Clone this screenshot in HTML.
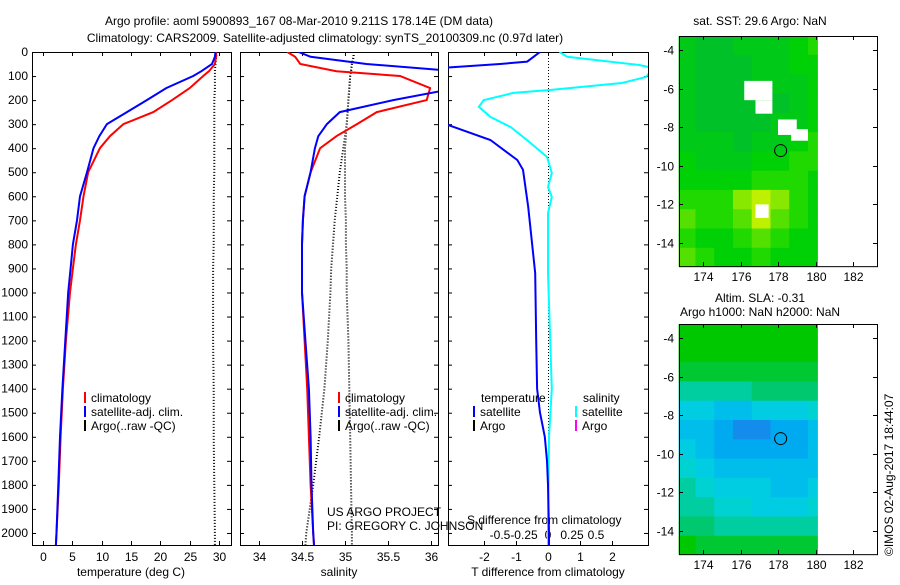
<!DOCTYPE html>
<html><head><meta charset="utf-8"><style>
body{margin:0;background:#fff}
svg text{font-family:"Liberation Sans",sans-serif;font-size:12px;fill:#000}
</style></head><body>
<svg id="c" width="900" height="580" viewBox="0 0 900 580" xmlns="http://www.w3.org/2000/svg">
<text x="299" y="25" text-anchor="middle" font-size="13">Argo profile: aoml 5900893_167 08-Mar-2010 9.211S 178.14E (DM data)</text>
<text x="325" y="42" text-anchor="middle" font-size="13">Climatology: CARS2009. Satellite-adjusted climatology: synTS_20100309.nc (0.97d later)</text>
<text x="760" y="25" text-anchor="middle">sat. SST: 29.6 Argo: NaN</text>
<text x="760" y="302" text-anchor="middle">Altim. SLA: -0.31</text>
<text x="760" y="316" text-anchor="middle">Argo h1000: NaN h2000: NaN</text>
<text transform="translate(893,556) rotate(-90)">©IMOS 02-Aug-2017 18:44:07</text>
<text x="327" y="516">US ARGO PROJECT</text>
<text x="327" y="530">PI: GREGORY C. JOHNSON</text>
<text x="467" y="524">S difference from climatology</text>
<text x="131" y="576" text-anchor="middle">temperature (deg C)</text>
<text x="339" y="576" text-anchor="middle">salinity</text>
<text x="548" y="576" text-anchor="middle">T difference from climatology</text>
</svg>
<script>
const depths=[0,20,50,80,100,150,200,250,300,350,400,500,600,700,800,900,1000,1200,1400,1600,1800,2000,2050];
const tClim=[29.5,29.5,29.3,28.3,27.3,25,22,18.8,13.7,11.4,9.7,7.7,6.9,6.3,5.6,5.1,4.6,3.9,3.4,3.0,2.7,2.3,2.2];
const tSat=[29.4,29.3,28.8,27,25.6,21,17.7,14.3,10.9,9.6,8.6,7.5,6.3,5.8,5.1,4.7,4.3,3.8,3.3,2.9,2.6,2.3,2.2];
const tArgo=[29.6,29.5,29.4,29.3,29.3,29.3,29.2,29.2,29.2,29.2,29.2,29.2,29.1,29.1,29.1,29.0,29.0,29.0,29.1,29.1,29.2,29.3,29.3];
const sClim=[34.33,34.42,34.48,34.9,35.64,35.99,35.95,35.37,35.14,34.9,34.71,34.6,34.53,34.51,34.5,34.5,34.5,34.53,34.56,34.58,34.6,34.63,34.64];
const sSat=[34.46,34.6,35.25,36.3,36.5,36.3,35.56,34.94,34.79,34.69,34.65,34.6,34.53,34.51,34.5,34.5,34.5,34.54,34.58,34.6,34.61,34.63,34.64];
const sArgoA=[35.1,35.1,35.08,35.07,35.06,35.05,35.04,35.03,35.02,35.01,35.0,35.0,35.0,35.01,35.01,35.02,35.02,35.04,35.05,35.06,35.07,35.08,35.08];
const sArgoB=[35.1,35.1,35.08,35.07,35.06,35.05,35.04,35.03,35.02,35.0,34.98,34.94,34.91,34.88,34.86,34.84,34.83,34.8,34.76,34.7,34.63,34.55,34.54];
const dDepths=[0,40,50,65,100,200,300,366,449,490,644,920,1200,1400,1500,1600,1700,1800,2000,2050];
const dTSat=[-0.25,-0.65,-1.5,-3.2,-4,-4,-3.2,-1.8,-0.96,-0.78,-0.62,-0.4,-0.37,-0.34,-0.25,-0.1,-0.03,0,0.03,0.03];
const sdDepths=[0,20,54,67,104,129,158,170,200,228,270,312,366,436,503,561,603,670,920,1400,1600,2000,2050];
const dSSat=[0.12,0.2,0.95,1.1,1.02,0.77,0.02,-0.36,-0.67,-0.72,-0.6,-0.39,-0.22,-0.01,0.04,0,0.04,0,0,0.04,0.01,0,0];
const tTicks=[0,5,10,15,20,25,30];
const sTicks=[34,34.5,35,35.5,36];
const sTickLabels=["34","34.5","35","35.5","36"];
const dtTicks=[-2,-1,0,1,2];
const dsTicks=[-0.5,-0.25,0,0.25,0.5];
const depthTicks=[0,100,200,300,400,500,600,700,800,900,1000,1100,1200,1300,1400,1500,1600,1700,1800,1900,2000];
const lonTicks=[174,176,178,180,182];
const latTicks=[-4,-6,-8,-10,-12,-14];
const sstGrid=["43344456","43334455","43334445","43333345","43333445","44434456","54445566","55556665","66689865","76679765","65567655","76556555"];
const slaGrid=["99999999","99999999","88888888","66667777","44334445","33211223","43222223","54333333","65444334","66554445","77666666","98888888"];
const nanRects=[[176.2,-5.6,177.7,-6.6],[176.8,-6.6,177.7,-7.3],[178.0,-7.6,179.0,-8.4],[178.7,-8.1,179.6,-8.7],[176.8,-12.0,177.5,-12.7]];
const profLon=178.14, profLat=-9.211;

const NS='http://www.w3.org/2000/svg';
const svg=document.getElementById('c');
function el(tag,attrs,parent){const e=document.createElementNS(NS,tag);for(const k in attrs)e.setAttribute(k,attrs[k]);(parent||svg).appendChild(e);return e;}
const yTop=52,yBot=545,dMax=2050;
function yD(d){return yTop+(d/dMax)*(yBot-yTop);}
function lin(d0,d1,p0,p1){return v=>p0+(v-d0)/(d1-d0)*(p1-p0);}
const panels=[
 {x0:32,x1:231,sx:lin(0,30,43,219),name:'temperature-panel'},
 {x0:240,x1:438,sx:lin(34,36,259,431),name:'salinity-panel'},
 {x0:448,x1:648,sx:lin(0,2,548,612),name:'difference-panel'}];
const sdx=lin(0,0.5,548,596);
function clip(p,id){const cp=el('clipPath',{id:id});el('rect',{x:p.x0,y:yTop,width:p.x1-p.x0,height:yBot-yTop},cp);return 'url(#'+id+')';}
function line(xs,ds,fx,color,w,dash,clipUrl,name){
  let pts=xs.map((v,i)=>fx(v).toFixed(1)+','+yD(ds[i]).toFixed(1)).join(' ');
  const a={points:pts,fill:'none',stroke:color,'stroke-width':w,'clip-path':clipUrl};
  if(dash)a['stroke-dasharray']=dash;
  const e=el('polyline',a);
  
  
}
panels.forEach((p,i)=>{
  const r=el('rect',{x:p.x0+0.5,y:yTop+0.5,width:p.x1-p.x0,height:yBot-yTop,fill:'none',stroke:'#000'});
  
  
  depthTicks.forEach(d=>{const y=yD(d)+0.5;el('line',{x1:p.x0,x2:p.x0+4,y1:y,y2:y,stroke:'#000'});el('line',{x1:p.x1-4,x2:p.x1,y1:y,y2:y,stroke:'#000'});});
});
depthTicks.forEach(d=>{const t=el('text',{x:28,y:yD(d)+4,'text-anchor':'end'});t.textContent=d;
  
  });
function xticks(p,vals,labels,fx){vals.forEach((v,i)=>{const x=Math.round(fx(v))+0.5;
  el('line',{x1:x,x2:x,y1:yBot-4,y2:yBot,stroke:'#000'});el('line',{x1:x,x2:x,y1:yTop,y2:yTop+4,stroke:'#000'});
  const t=el('text',{x:x,y:561,'text-anchor':'middle'});t.textContent=labels[i];
  
  });}
xticks(panels[0],tTicks,tTicks.map(String),panels[0].sx);
xticks(panels[1],sTicks,sTickLabels,panels[1].sx);
xticks(panels[2],dtTicks,dtTicks.map(String),panels[2].sx);
dsTicks.forEach(v=>{const t=el('text',{x:sdx(v),y:539,'text-anchor':'middle'});t.textContent=String(v);
  
  });
const c0=clip(panels[0],'c0'),c1=clip(panels[1],'c1'),c2=clip(panels[2],'c2');
line(tArgo,depths,panels[0].sx,'#000',2,'1,2',c0,'argo-temperature-line');
line(tClim,depths,panels[0].sx,'#f00',2,null,c0,'climatology-temperature-line');
line(tSat,depths,panels[0].sx,'#00f',2,null,c0,'satellite-temperature-line');
line(sArgoA,depths,panels[1].sx,'#000',2,'1,2',c1,'argo-salinity-raw-line');
line(sArgoB,depths,panels[1].sx,'#000',2,'1,2',c1,'argo-salinity-qc-line');
line(sClim,depths,panels[1].sx,'#f00',2,null,c1,'climatology-salinity-line');
line(sSat,depths,panels[1].sx,'#00f',2,null,c1,'satellite-salinity-line');
el('line',{x1:548.5,x2:548.5,y1:yTop,y2:yBot,stroke:'#000','stroke-dasharray':'1,2'});
line(dSSat,sdDepths,sdx,'#0ff',2,null,c2,'salinity-difference-line');
line(dTSat,dDepths,panels[2].sx,'#00f',2,null,c2,'temperature-difference-line');
function legend(x,y,color,label,name){el('rect',{x:x,y:y-10,width:2,height:11,fill:color});const t=el('text',{x:x+7,y:y});t.textContent=label;
  
  }
legend(84,402,'#f00','climatology','legend-climatology');
legend(84,416,'#00f','satellite-adj. clim.','legend-satellite');
legend(84,430,'#000','Argo(..raw -QC)','legend-argo');
legend(338,402,'#f00','climatology','legend-climatology-s');
legend(338,416,'#00f','satellite-adj. clim.','legend-satellite-s');
legend(338,430,'#000','Argo(..raw -QC)','legend-argo-s');
(function(){const t=el('text',{x:481,y:402});t.textContent='temperature';const s=el('text',{x:583,y:402});s.textContent='salinity';})();
legend(473,416,'#00f','satellite','legend-t-satellite');
legend(473,430,'#000','Argo','legend-t-argo');
legend(575,416,'#0ff','satellite','legend-s-satellite');
legend(575,430,'#f0f','Argo','legend-s-argo');

function sstColor(v){const t=v/9;const r=Math.round(t<0.6?0:(t-0.6)/0.4*190);const g=Math.round(170+t*70);const b=Math.round(t<0.6?90*(1-t/0.6):0);return `rgb(${r},${g},${b})`;}
function slaColor(v){const st=[[40,110,230],[20,140,235],[0,170,240],[0,190,235],[0,205,225],[0,210,210],[0,205,160],[0,200,110],[0,200,50],[0,200,0]];const c=st[v];return `rgb(${c[0]},${c[1]},${c[2]})`;}
function drawMap(top,grid,colorFn,name,nans){
  const lonX=lin(174,182,703,853), latY=lin(-4,-14,top+ (50-36),top+(50-36)+193);
  const bottom=latY(-15.2), x0=679,x1=877;
  const g=el('g',{});
  
  
  grid.forEach((row,ri)=>{const la0=-3.25-ri, la1=(ri==grid.length-1)?-15.2:-4.25-ri;
    [...row].forEach((ch,ci)=>{const lo0=ci==0?172.7:172.6+ci, lo1=Math.min(180.1,173.6+ci);
      const ya=Math.max(top,latY(la0)),yb=Math.min(bottom,latY(la1));
      const cell=el('rect',{x:lonX(lo0).toFixed(1),y:ya.toFixed(1),width:(lonX(lo1)-lonX(lo0)+0.5).toFixed(1),height:(yb-ya+0.5).toFixed(1),fill:colorFn(+ch)},g);
      
      });});
  (nans||[]).forEach(n=>{el('rect',{x:lonX(n[0]),y:latY(n[1]),width:lonX(n[2])-lonX(n[0]),height:latY(n[3])-latY(n[1]),fill:'#fff'},g);});
  const c=el('circle',{cx:lonX(profLon),cy:latY(profLat),r:6,fill:'none',stroke:'#000'});
  
  
  const f=el('rect',{x:x0+0.5,y:top+0.5,width:x1-x0,height:bottom-top,fill:'none',stroke:'#000'});
  
  
  lonTicks.forEach(v=>{const x=Math.round(lonX(v))+0.5;el('line',{x1:x,x2:x,y1:bottom-4,y2:bottom,stroke:'#000'});el('line',{x1:x,x2:x,y1:top,y2:top+4,stroke:'#000'});
    const t=el('text',{x:x,y:bottom+15,'text-anchor':'middle'});t.textContent=v;
    
    });
  latTicks.forEach(v=>{const y=Math.round(latY(v))+0.5;el('line',{x1:x0,x2:x0+4,y1:y,y2:y,stroke:'#000'});el('line',{x1:x1-4,x2:x1,y1:y,y2:y,stroke:'#000'});
    const t=el('text',{x:674,y:y+4,'text-anchor':'end'});t.textContent=v;
    
    });
}
drawMap(36,sstGrid,sstColor,'sst-map',nanRects);
drawMap(324,slaGrid,slaColor,'sla-map',[]);
</script>
</body></html>
